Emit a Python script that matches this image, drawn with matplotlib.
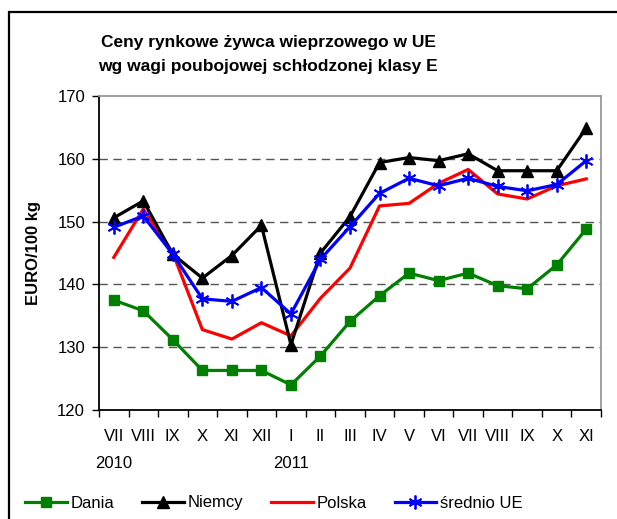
import matplotlib
matplotlib.use("Agg")
import matplotlib.pyplot as plt
from matplotlib.patches import Rectangle
import numpy as np

plt.rcParams['font.family'] = ['Liberation Sans', 'DejaVu Sans']

months = ["VII", "VIII", "IX", "X", "XI", "XII", "I", "II", "III", "IV", "V",
          "VI", "VII", "VIII", "IX", "X", "XI"]
years = {0: "2010", 6: "2011"}

dania = [137.5, 135.8, 131.2, 126.3, 126.3, 126.3, 124.0, 128.6, 134.1, 138.2,
         141.8, 140.6, 141.8, 139.8, 139.3, 143.1, 148.8]
niemcy = [150.6, 153.3, 144.8, 141.0, 144.6, 149.4, 130.4, 145.0, 150.8, 159.4,
          160.2, 159.7, 160.8, 158.1, 158.1, 158.1, 164.9]
polska = [144.3, 152.0, 145.0, 132.8, 131.3, 133.9, 131.8, 137.8, 142.6, 152.5,
          152.9, 156.1, 158.3, 154.4, 153.6, 155.7, 156.8]
srednio = [149.1, 150.9, 144.8, 137.7, 137.3, 139.5, 135.3, 144.0, 149.2, 154.5,
           156.9, 155.7, 156.9, 155.6, 154.9, 155.9, 159.7]

W, H = 617, 519
fig = plt.figure(figsize=(W / 100, H / 100), dpi=100)

# outer frame of the chart
fig.patches.append(Rectangle((8.5 / W, -0.1), 1.2, 1 - 11.5 / H + 0.1,
                             transform=fig.transFigure, fill=False,
                             edgecolor='black', linewidth=1.6))

ax = fig.add_axes([99 / W, 1 - 410 / H, (601 - 99) / W, (410 - 96) / H])
x = np.arange(len(months))

ax.plot(x, dania, color='#008000', lw=2.3, marker='s', ms=7.5, zorder=2,
        label='Dania')
ax.plot(x, polska, color='#FF0000', lw=2.3, zorder=3, label='Polska')
ax.plot(x, niemcy, color='black', lw=2.3, marker='^', ms=9, zorder=4,
        label='Niemcy')
ax.plot(x, srednio, color='#0000FF', lw=2.3, marker=(6, 2, 0), ms=10, mew=1.3,
        zorder=5, label='średnio UE')

ax.set_xlim(-0.5, len(months) - 0.5)
ax.set_ylim(120, 170)
ax.set_yticks([120, 130, 140, 150, 160, 170])
ax.tick_params(axis='y', labelsize=12, direction='out', length=5, width=1,
               pad=5)
for v in [130, 140, 150, 160]:
    ax.axhline(v, color='#555555', lw=1.0, ls=(0, (6, 4)), zorder=1)

ax.set_xticks(x)
ax.set_xticklabels(months, fontsize=12)
ax.tick_params(axis='x', length=0, pad=14)
ax.set_xticks(np.arange(-0.5, len(months)), minor=True)
ax.tick_params(axis='x', which='minor', direction='out', length=5, width=1)
for i, yr in years.items():
    ax.text(i, -0.17, yr, transform=ax.get_xaxis_transform(), ha='center',
            va='center', fontsize=12)

for s in ['left', 'bottom']:
    ax.spines[s].set_color('black')
    ax.spines[s].set_linewidth(1.3)
for s in ['top', 'right']:
    ax.spines[s].set_color('#999999')
    ax.spines[s].set_linewidth(1.3)

ax.set_ylabel('EURO/100 kg', fontsize=12, fontweight='bold', labelpad=12)

fig.text(268 / W, 1 - 42 / H, 'Ceny rynkowe żywca wieprzowego w UE',
         ha='center', va='center', fontsize=12.5, fontweight='bold')
fig.text(268 / W, 1 - 66 / H, 'wg wagi poubojowej schłodzonej klasy E',
         ha='center', va='center', fontsize=12.5, fontweight='bold')

h, l = ax.get_legend_handles_labels()
order = [0, 2, 1, 3]
fig.legend([h[i] for i in order], [l[i] for i in order], loc='center left',
           bbox_to_anchor=(25 / W, 1 - 503 / H), ncol=4, frameon=False,
           fontsize=12, handlelength=2.5, columnspacing=1.65,
           handletextpad=0.25, borderaxespad=0, borderpad=0)

fig.savefig('out.png', dpi=100)
